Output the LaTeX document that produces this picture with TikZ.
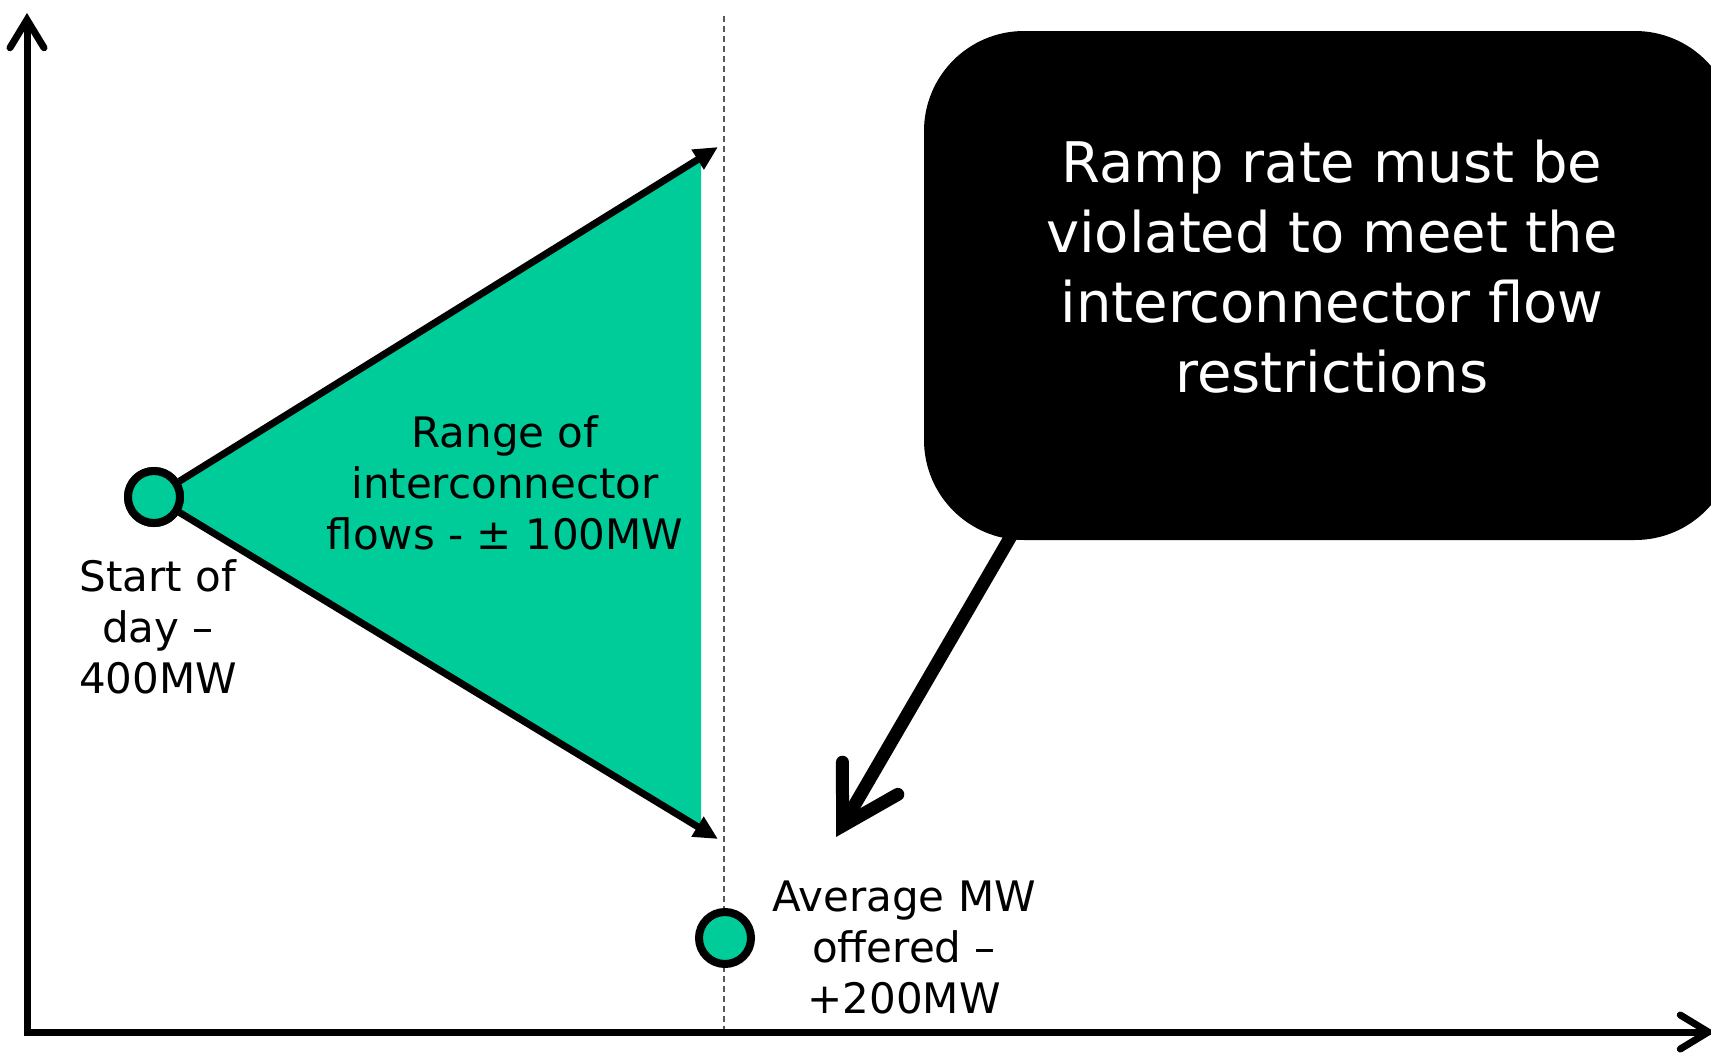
\documentclass[tikz,border=0pt]{standalone}
\usepackage{fontspec}
\setmainfont{DejaVu Sans}
\usetikzlibrary{arrows.meta}
\definecolor{flowgreen}{RGB}{0,204,153}
\begin{document}
\begin{tikzpicture}[x=1pt,y=-1pt,
  axis/.style={line width=7pt,
    -{Straight Barb[length=28pt,width=34pt,line cap=round,line join=miter]}},
  rangearrow/.style={line width=7pt, -{Triangle[length=24pt,width=22pt]}},
  dot/.style={circle, draw=black, line width=8pt, fill=flowgreen,
    minimum size=52pt, inner sep=0pt},
  lbl/.style={align=center, font=\fontsize{42}{51}\selectfont},
  msgtext/.style={align=center, text=white, font=\fontsize{56}{70}\selectfont},
  bubble/.style={fill=black, rounded corners=100pt, minimum width=811pt,
    minimum height=509pt, inner sep=0pt},
  pointer/.style={line width=13pt,
    -{Straight Barb[length=55pt,width=64pt,line cap=round,line join=miter]}},
  guide/.style={gray!70!black, line width=1.8pt, dash pattern=on 6pt off 4pt}
]
\useasboundingbox (0,0) rectangle (1711,1053);

% vertical guide at the end of the period
\coordinate (gtop) at (724,16);
\coordinate (gbot) at (724,1030);
\draw[guide] (gtop) -- (gbot);

% axes
\coordinate (ybot) at (27,1035);
\coordinate (ytip) at (27,13);
\coordinate (xbeg) at (24,1032);
\coordinate (xtip) at (1715,1032);
\draw[axis] (ybot) -- (ytip);
\draw[axis] (xbeg) -- (xtip);

% range of possible flows
\fill[flowgreen] (154,497) -- (701,157) -- (701,829) -- cycle;
\node[dot] (start) at (154,497) {};
\coordinate (uptip) at (718,147);
\coordinate (lowtip) at (718,839);
\draw[rangearrow] (start) -- (uptip);
\draw[rangearrow] (start) -- (lowtip);
\node[dot] (start) at (154,497) {};

% average offered point
\node[dot] (avg) at (725,938) {};

% labels
\node[lbl] (startlbl) at (158,627) {Start of\\day –\\400MW};
\node[lbl] (rangelbl) at (505,483) {Range of\\interconnector\\flows - ± 100MW};
\node[lbl] (avglbl) at (904,947) {Average MW\\offered –\\+200MW};

% callout
\node[bubble] (box) at (1329.5,285.5) {};
\node[msgtext] (msg) at (1332,267) {Ramp rate must be\\violated to meet the\\interconnector flow\\restrictions};
\coordinate (pstart) at (1025,512);
\coordinate (ptip) at (836,837);
\draw[pointer] (pstart) -- (ptip);
\end{tikzpicture}
\end{document}
